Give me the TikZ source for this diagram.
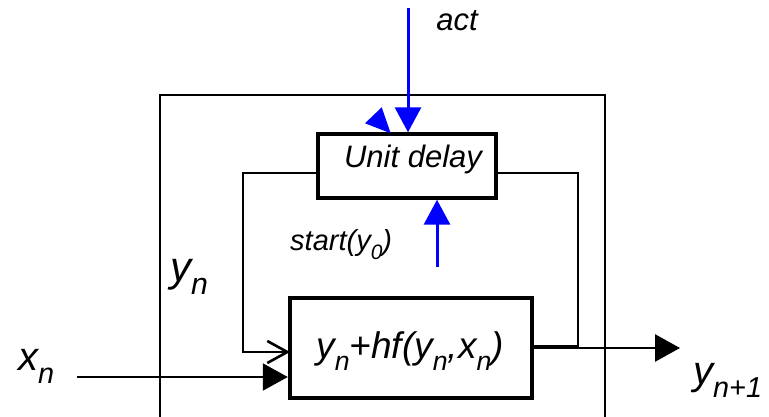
\documentclass[tikz,border=0pt]{standalone}
\usepackage{fontspec}
\setmainfont{Liberation Sans}
\usepackage{graphicx}
\usetikzlibrary{arrows.meta}
\newcommand{\lsub}[1]{\raisebox{-0.33em}{\scalebox{0.72}{#1}}}
\tikzset{
  lbl/.style={inner sep=0pt, font=\itshape},
  thinline/.style={line width=2.6pt},
  frameline/.style={line width=2pt},
  blk/.style={draw, line width=3pt, fill=white, inner sep=0pt},
  blueline/.style={draw=blue, line width=3pt},
  fillarrow/.style={-{Triangle[length=25pt,width=27pt]}},
  bluearrow/.style={-{Triangle[length=25pt,width=26pt]}},
  openarrow/.style={-{Straight Barb[length=20pt,width=22pt,line width=2.6pt]}}
}
\begin{document}
\begin{tikzpicture}[x=1pt,y=-1pt]
\useasboundingbox (0,0) rectangle (769,417);
% outer frame
\coordinate (ob1) at (160,417);
\coordinate (ob2) at (160,95);
\coordinate (ob3) at (605,95);
\coordinate (ob4) at (605,417);
\draw[frameline] (ob1) -- (ob2) -- (ob3) -- (ob4);
% blocks
\node[blk, line width=3.4pt, minimum width=178pt, minimum height=64pt] (ud) at (407,166) {};
\node[lbl, font=\fontsize{31}{31}\selectfont\itshape, anchor=base] (udt) at (413,168) {Unit delay};
\node[blk, line width=4.4pt, minimum width=242pt, minimum height=100pt] (fb) at (411,348) {};
\node[lbl, font=\fontsize{37}{37}\selectfont\itshape, anchor=base] (fbt) at (410,358) {y\lsub{n}+hf(y\lsub{n},x\lsub{n})};
% feedback left
\coordinate (fl1) at (243,173);
\coordinate (fl2) at (243,352);
\coordinate (fbl) at (290,352);
\draw[thinline, openarrow] (ud.west |- fl1) -- (fl1) -- (fl2) -- (fbl);
% feedback right
\coordinate (fr1) at (578,346);
\coordinate (fr2) at (578,173);
\draw[thinline] (fb.east |- fr1) -- (fr1) -- (fr2) -- (ud.east |- fr2);
% output
\coordinate (outtip) at (680,348);
\draw[line width=2.6pt, fillarrow] (fb.east |- outtip) -- (outtip);
% input
\coordinate (instart) at (77,377);
\draw[frameline, fillarrow] (instart) -- (fb.west |- instart);
% act arrow
\coordinate (actstart) at (408,8);
\draw[blueline, bluearrow] (actstart) -- (actstart |- ud.north);
\fill[blue] (365,123.3) -- (381.7,107.3) -- (390.7,133.3) -- cycle;
% start arrow
\coordinate (ststart) at (437,267);
\draw[blueline, bluearrow] (ststart) -- (ststart |- ud.south);
% labels
\node[lbl, font=\fontsize{31}{31}\selectfont\itshape, anchor=base] (act) at (457,31) {act};
\node[lbl, font=\fontsize{29}{29}\selectfont\itshape, anchor=base west] (st) at (290,250) {start(y\lsub{0})};
\node[lbl, font=\fontsize{42}{42}\selectfont\itshape, anchor=base west] (yn) at (170,281) {y\lsub{n}};
\node[lbl, font=\fontsize{40}{40}\selectfont\itshape, anchor=base west] (xn) at (18,370) {x\lsub{n}};
\node[lbl, font=\fontsize{40}{40}\selectfont\itshape, anchor=base west] (yn1) at (693,384) {y\lsub{n+1}};
\end{tikzpicture}
\end{document}
